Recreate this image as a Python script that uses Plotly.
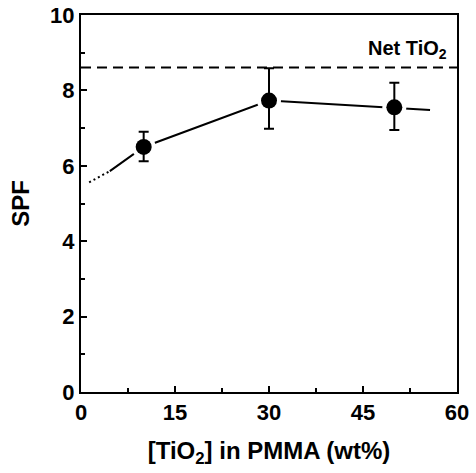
import plotly.graph_objects as go

# data
tio2_wt = [10, 30, 50]
spf = [6.5, 7.73, 7.55]
err_plus = [0.4, 0.86, 0.65]
err_minus = [0.38, 0.75, 0.6]

# trend line through the points (dotted start, solid rest)
trend_dot_x = [1.3, 4.6]
trend_dot_y = [5.56, 5.86]
trend_x = [4.6, 10, 30, 50, 55.7]
trend_y = [5.86, 6.5, 7.73, 7.55, 7.48]

net_tio2_spf = 8.61

x_ticks = [0, 15, 30, 45, 60]
y_ticks = [0, 2, 4, 6, 8, 10]

FONT = "Liberation Sans"

fig = go.Figure()

fig.add_trace(go.Scatter(x=trend_dot_x, y=trend_dot_y, mode="lines",
                         line=dict(color="black", width=2, dash="2px,3px"),
                         showlegend=False, hoverinfo="skip"))
fig.add_trace(go.Scatter(x=trend_x, y=trend_y, mode="lines",
                         line=dict(color="black", width=2),
                         showlegend=False, hoverinfo="skip"))
# white halo around markers
fig.add_trace(go.Scatter(x=tio2_wt, y=spf, mode="markers",
                         marker=dict(color="white", size=24, line=dict(width=0)),
                         showlegend=False, hoverinfo="skip"))
fig.add_trace(go.Scatter(x=tio2_wt, y=spf, mode="markers",
                         marker=dict(color="black", size=16, line=dict(width=0)),
                         error_y=dict(type="data", array=err_plus, arrayminus=err_minus,
                                      color="black", thickness=2, width=5),
                         showlegend=False))

fig.add_shape(type="line", xref="paper", x0=0, x1=1, yref="y",
              y0=net_tio2_spf, y1=net_tio2_spf,
              line=dict(color="black", width=2, dash="10px,6px"))

fig.add_annotation(x=0.98, xref="paper", y=net_tio2_spf, yref="y",
                   text="<b>Net TiO<sub>2</sub></b>", showarrow=False,
                   xanchor="right", yanchor="bottom", yshift=3,
                   font=dict(family=FONT, size=20, color="black"))

axis_common = dict(showline=True, linecolor="black", linewidth=2, mirror=True,
                   ticks="inside", tickcolor="black", tickwidth=1.5, ticklen=6,
                   showgrid=False, zeroline=False, automargin=False,
                   tickfont=dict(family=FONT, size=22, color="black"))

fig.update_xaxes(range=[0, 60], tickvals=x_ticks,
                 ticktext=[f"<b>{v}</b>" for v in x_ticks],
                 minor=dict(ticks="inside", ticklen=4, tickwidth=1.5, tickcolor="black",
                            dtick=7.5, tick0=0),
                 title=dict(text="<b>[TiO<sub>2</sub>] in PMMA (wt%)</b>",
                            font=dict(family=FONT, size=24, color="black"), standoff=18),
                 **axis_common)
fig.update_yaxes(range=[0, 10], tickvals=y_ticks,
                 ticktext=[f"<b>{v}</b>" for v in y_ticks],
                 minor=dict(ticks="inside", ticklen=4, tickwidth=1.5, tickcolor="black",
                            dtick=1, tick0=0),
                 title=dict(text="<b>SPF</b>",
                            font=dict(family=FONT, size=24, color="black"), standoff=14),
                 **axis_common)

fig.update_layout(width=476, height=473, margin=dict(l=81, r=19, t=15, b=81),
                  plot_bgcolor="white", paper_bgcolor="white", showlegend=False)

fig.write_html("out.html", config={"displayModeBar": False},
               post_script="document.body.style.margin='0';document.body.style.padding='0';")
